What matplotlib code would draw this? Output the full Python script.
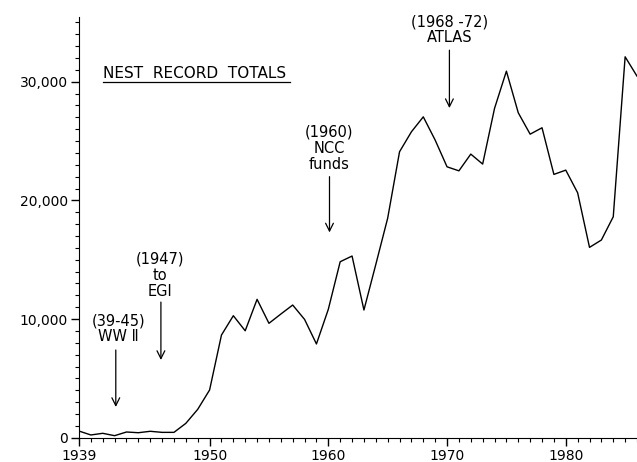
import numpy as np
import matplotlib
matplotlib.use("Agg")
import matplotlib.pyplot as plt
from matplotlib.ticker import FixedLocator, MultipleLocator, FuncFormatter

years = np.arange(1939, 1987)
totals = [560, 230, 370, 170, 480, 420, 540, 450, 450, 1210,
          2390, 4020, 8650, 10280, 9010, 11660, 9640, 10420, 11180, 9970,
          7900, 10820, 14830, 15310, 10760, 14600, 18500, 24100, 25780, 27040,
          25080, 22830, 22490, 23900, 23060, 27750, 30890, 27380, 25580, 26120,
          22190, 22550, 20640, 16040, 16660, 18620, 32100, 30470]

major_years = [1939, 1950, 1960, 1970, 1980]
y_ticks = [0, 10000, 20000, 30000]

# annotation texts: (lines, text x, text y of first line, arrow x, arrow start y, arrow end y)
notes = [
    (["(39-45)", "WW \u2161"], 1942.3, 9860, 1942.1, 7390, 2590),
    (["(1947)", "to", "EGI"], 1945.8, 15050, 1945.9, 11430, 6550),
    (["(1960)", "NCC", "funds"], 1960.1, 25750, 1960.1, 22000, 17300),
    (["(1968 -72)", "ATLAS"], 1970.2, 35050, 1970.2, 32660, 27780),
]

plt.rcParams['font.family'] = ['DejaVu Sans']
fig = plt.figure(figsize=(6.37, 4.62), dpi=100)
ax = fig.add_axes([0.124, 0.0526, 0.876, 0.911])

ax.plot(years, totals, color='black', lw=1.0)

ax.set_xlim(1939, 1986)
ax.set_ylim(0, 35470)
ax.spines['top'].set_visible(False)
ax.spines['right'].set_visible(False)
ax.xaxis.set_major_locator(FixedLocator(major_years))
ax.xaxis.set_minor_locator(MultipleLocator(1))
ax.yaxis.set_major_locator(FixedLocator(y_ticks))
ax.yaxis.set_minor_locator(MultipleLocator(1000))
ax.yaxis.set_major_formatter(FuncFormatter(lambda v, p: f"{int(v):,}"))
ax.tick_params(which='major', length=6, width=1, labelsize=10, pad=2)
ax.tick_params(which='minor', length=3, width=0.8)

line_h = 1350
for lines, tx, ty, axx, ay0, ay1 in notes:
    for i, s in enumerate(lines):
        ax.text(tx, ty - i * line_h, s, ha='center', va='center', fontsize=10.5,
                clip_on=False)
    ax.annotate("", xy=(axx, ay1), xytext=(axx, ay0),
                arrowprops=dict(arrowstyle='->', lw=0.9, color='black',
                                mutation_scale=14, shrinkA=0, shrinkB=0))

ax.text(0.043, 0.866, "NEST  RECORD  TOTALS", transform=ax.transAxes,
        ha='left', va='center', fontsize=11)
ax.plot([0.043, 0.378], [0.845, 0.845], transform=ax.transAxes,
        color='black', lw=0.9, clip_on=False)

fig.savefig("out.png", dpi=100)
